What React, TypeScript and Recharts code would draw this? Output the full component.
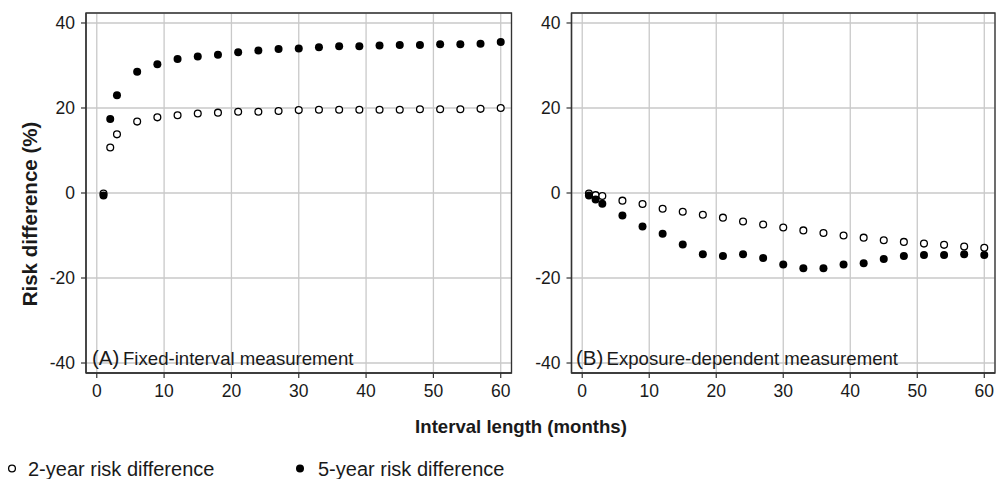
import React from "react";
import {
  ScatterChart,
  Scatter,
  XAxis,
  YAxis,
  CartesianGrid,
  ReferenceArea,
} from "recharts";

const months = [1, 2, 3, 6, 9, 12, 15, 18, 21, 24, 27, 30, 33, 36, 39, 42, 45, 48, 51, 54, 57, 60];

const fixed2yr = [-0.1, 10.7, 13.8, 16.8, 17.8, 18.3, 18.7, 18.9, 19.1, 19.1, 19.3, 19.5, 19.6, 19.6, 19.6, 19.6, 19.6, 19.7, 19.7, 19.7, 19.8, 20.0];
const fixed5yr = [-0.6, 17.4, 23.0, 28.5, 30.3, 31.5, 32.1, 32.5, 33.1, 33.5, 33.9, 34.0, 34.3, 34.5, 34.5, 34.7, 34.8, 34.8, 35.0, 35.0, 35.1, 35.5];
const exposure2yr = [-0.1, -0.5, -0.7, -1.8, -2.6, -3.7, -4.4, -5.1, -5.8, -6.7, -7.4, -8.1, -8.8, -9.4, -10.0, -10.5, -11.1, -11.5, -11.9, -12.2, -12.6, -12.9];
const exposure5yr = [-0.6, -1.5, -2.5, -5.3, -7.9, -9.6, -12.1, -14.4, -14.8, -14.4, -15.3, -16.8, -17.7, -17.7, -16.8, -16.5, -15.5, -14.8, -14.6, -14.6, -14.4, -14.6];

const xTicks = [0, 10, 20, 30, 40, 50, 60];
const yTicks = [-40, -20, 0, 20, 40];
const xDomain: [number, number] = [-1.6, 61.6];
const yDomain: [number, number] = [-42.35, 42.35];

const panelA = "Fixed-interval measurement";
const panelB = "Exposure-dependent measurement";
const legend2 = "2-year risk difference";
const legend5 = "5-year risk difference";
const xLabel = "Interval length (months)";
const yLabel = "Risk difference (%)";

const FONT = "'Liberation Sans', Arial, Helvetica, sans-serif";
const TEXT = "#1a1a1a";
const DARK = "#333333";

const zip = (ys: number[]) => months.map((m, i) => ({ x: m, y: ys[i] }));

const OpenDot = (p: any) => (
  <circle cx={p.cx} cy={p.cy} r={3.4} fill="#ffffff" stroke="#000" strokeWidth={1.3} />
);
const FilledDot = (p: any) => <circle cx={p.cx} cy={p.cy} r={4} fill="#000" stroke="none" />;

const tickStyle = { fontSize: 17.5, fill: TEXT, fontFamily: FONT };

function Panel({
  width,
  yAxisWidth,
  marginRight,
  open,
  filled,
}: {
  width: number;
  yAxisWidth: number;
  marginRight: number;
  open: number[];
  filled: number[];
}) {
  return (
    <ScatterChart
      width={width}
      height={400}
      margin={{ top: 13, right: marginRight, bottom: 0, left: 0 }}
    >
      <CartesianGrid stroke="#c9c9c9" strokeWidth={1.3} />
      <XAxis
        type="number"
        dataKey="x"
        domain={xDomain}
        ticks={xTicks}
        allowDataOverflow
        height={27}
        tickSize={5}
        tickMargin={7}
        tick={tickStyle}
        stroke={DARK}
        axisLine={{ stroke: DARK, strokeWidth: 1.3 }}
        tickLine={{ stroke: DARK, strokeWidth: 1.2 }}
      />
      <YAxis
        type="number"
        dataKey="y"
        domain={yDomain}
        ticks={yTicks}
        allowDataOverflow
        width={yAxisWidth}
        tickSize={5}
        tickMargin={6}
        tick={tickStyle}
        stroke={DARK}
        axisLine={{ stroke: DARK, strokeWidth: 1.3 }}
        tickLine={{ stroke: DARK, strokeWidth: 1.2 }}
      />
      <ReferenceArea
        x1={xDomain[0]}
        x2={xDomain[1]}
        y1={yDomain[0]}
        y2={yDomain[1]}
        fill="none"
        stroke={DARK}
        strokeWidth={1.3}
        ifOverflow="visible"
      />
      <Scatter data={zip(open)} shape={OpenDot} isAnimationActive={false} />
      <Scatter data={zip(filled)} shape={FilledDot} isAnimationActive={false} />
    </ScatterChart>
  );
}

export default function App() {
  return (
    <div
      style={{
        position: "absolute",
        left: 0,
        top: 0,
        width: 996,
        height: 479,
        background: "#fff",
        fontFamily: FONT,
      }}
    >
      <div style={{ position: "absolute", left: 0, top: 0 }}>
        <Panel width={520} yAxisWidth={86} marginRight={8.5} open={fixed2yr} filled={fixed5yr} />
      </div>
      <div style={{ position: "absolute", left: 520, top: 0 }}>
        <Panel width={476} yAxisWidth={51.5} marginRight={1} open={exposure2yr} filled={exposure5yr} />
      </div>
      <svg
        width={996}
        height={479}
        style={{ position: "absolute", left: 0, top: 0, pointerEvents: "none" }}
        fontFamily={FONT}
      >
        <text x={92} y={365} fontSize={20.5} fill={TEXT}>(A)</text>
        <text x={123} y={365} fontSize={18.6} fill={TEXT}>{panelA}</text>
        <text x={576} y={365} fontSize={20.5} fill={TEXT}>(B)</text>
        <text x={606.5} y={365} fontSize={18.6} fill={TEXT}>{panelB}</text>
        <text
          x={37}
          y={214}
          fontSize={20.5}
          fontWeight="bold"
          fill={TEXT}
          textAnchor="middle"
          transform="rotate(-90 37 214)"
        >
          {yLabel}
        </text>
        <text x={521} y={433} fontSize={18.6} fontWeight="bold" fill={TEXT} textAnchor="middle">
          {xLabel}
        </text>
        <circle cx={12} cy={468.5} r={3.4} fill="#fff" stroke="#000" strokeWidth={1.3} />
        <text x={28} y={475.5} fontSize={20} fill={TEXT}>{legend2}</text>
        <circle cx={300} cy={468.5} r={4} fill="#000" />
        <text x={318} y={475.5} fontSize={20} fill={TEXT}>{legend5}</text>
      </svg>
    </div>
  );
}
